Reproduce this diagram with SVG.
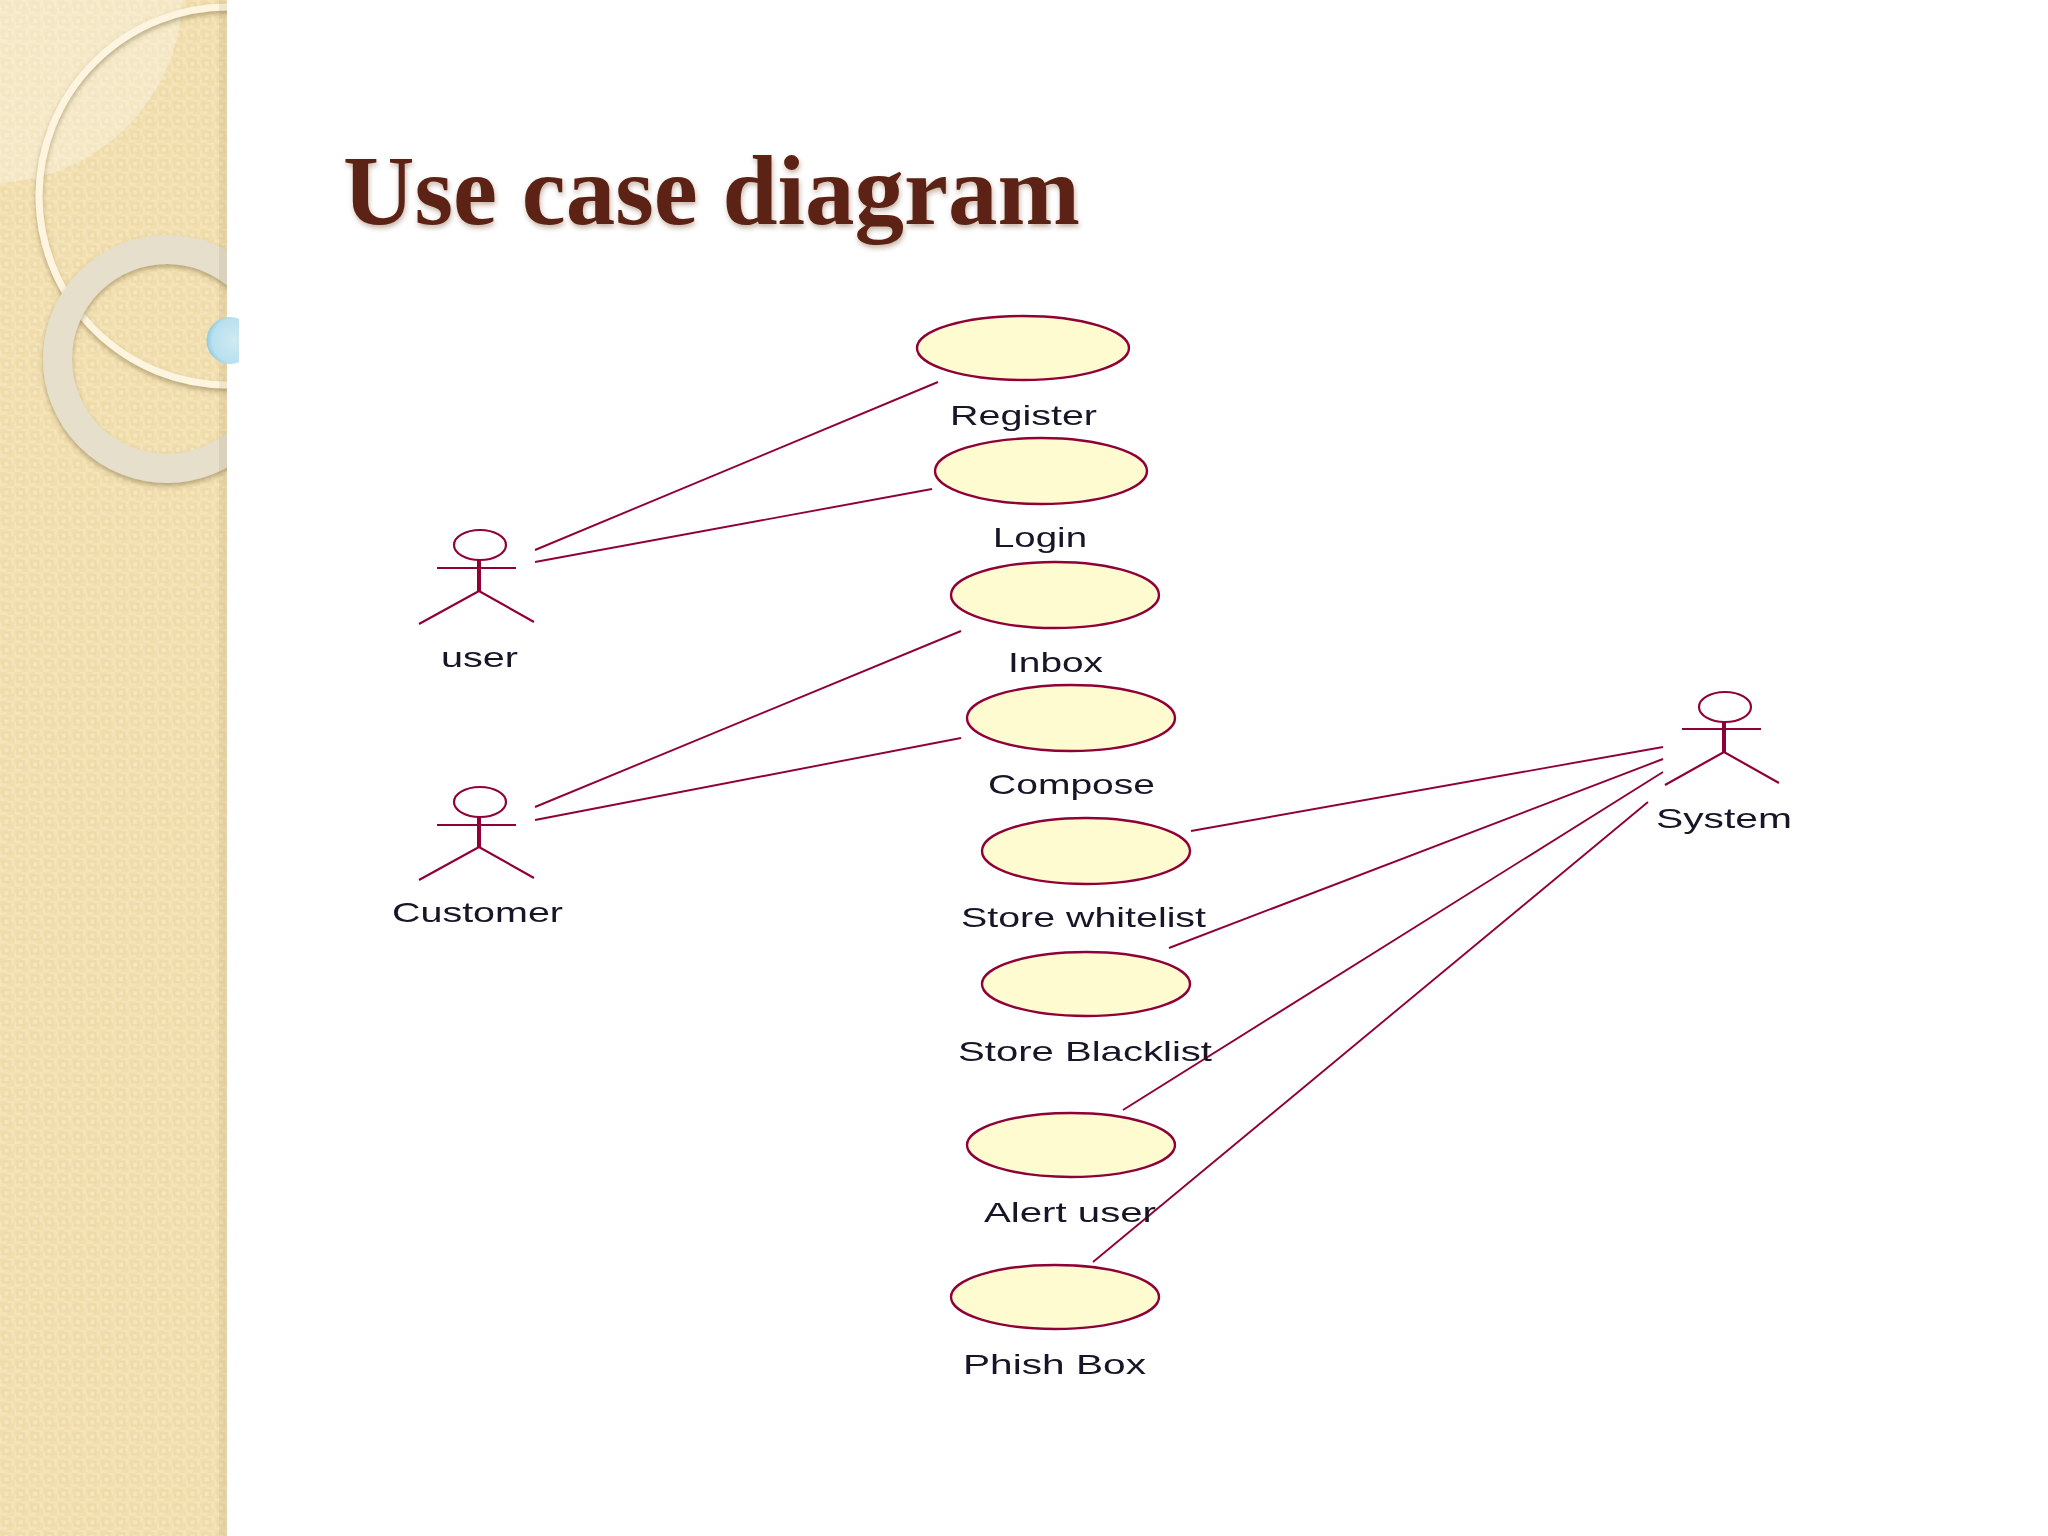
<svg xmlns="http://www.w3.org/2000/svg" width="2048" height="1536" viewBox="0 0 2048 1536">
<style>
.n,.c{filter:url(#soft)}
.uc{fill:#fffbd0;stroke:#900038;stroke-width:2.4}
.a{fill:none;stroke:#900038;stroke-width:2.2}
.b{fill:none;stroke:#900038;stroke-width:4}
.l{font-family:"Liberation Sans",Arial,sans-serif;font-size:28px;fill:#141428}
.c line{stroke:#900038;stroke-width:1.9}
</style>
<defs>
<pattern id="p" width="14.3" height="14.3" patternUnits="userSpaceOnUse">
<rect width="14.3" height="14.3" fill="#f5e4ba"/>
<rect x="0" y="0" width="7" height="7" fill="#f1deae"/>
<rect x="7" y="7" width="7.300" height="7.300" fill="#f1deae"/>
<rect x="2" y="2" width="9" height="9" fill="#eedba8"/>
<rect x="4.500" y="4.500" width="4" height="4" fill="#f5e6c2"/>
</pattern>
<clipPath id="side"><rect width="227" height="1536"/></clipPath>
<clipPath id="ballclip"><rect x="200" y="300" width="39" height="80"/></clipPath>
<filter id="soft" filterUnits="userSpaceOnUse" x="0" y="0" width="2048" height="1536"><feGaussianBlur stdDeviation=".55"/></filter>
<filter id="s" x="-10%" y="-10%" width="120%" height="130%"><feDropShadow dx="1" dy="3" stdDeviation="2.500" flood-color="#5a2a10" flood-opacity=".35"/></filter>
<filter id="sh" x="-20%" y="-20%" width="140%" height="140%"><feDropShadow dx="0" dy="3" stdDeviation="2.500" flood-color="#7a6a40" flood-opacity=".5"/></filter>
<radialGradient id="ball" cx=".6" cy=".5" r=".6"><stop offset="0" stop-color="#cfeaf3"/><stop offset=".8" stop-color="#b8e0ee"/><stop offset="1" stop-color="#8fc9dc"/></radialGradient>
</defs>
<rect width="2048" height="1536" fill="#fff"/>
<g id="sidebar">
<rect width="227" height="1536" fill="url(#p)"/>
<g clip-path="url(#side)">
<path d="M0 0H183C176 105 95 178 0 183Z" fill="#fff" fill-opacity=".3"/>
<circle cx="228" cy="196" r="189" fill="none" stroke="#fdf5df" stroke-width="7" filter="url(#sh)"/>
<circle cx="167" cy="359" r="109.500" fill="none" stroke="#e6dfcc" stroke-width="29" filter="url(#sh)"/>
<rect x="219" y="0" width="8" height="1536" fill="#8a7a50" fill-opacity=".12"/>
</g>
<circle cx="230" cy="340.500" r="23.500" fill="url(#ball)" clip-path="url(#ballclip)"/>
</g>
<text id="title" x="343" y="224" font-family="'Liberation Serif','Times New Roman',serif" font-weight="700" font-size="99" fill="#5c2413" filter="url(#s)" textLength="737" lengthAdjust="spacingAndGlyphs">Use case diagram</text>
<g id="connectors" class="c">
<line x1="535" y1="550" x2="938" y2="382"/>
<line x1="535" y1="562" x2="932" y2="489"/>
<line x1="535" y1="807" x2="961" y2="631"/>
<line x1="535" y1="820" x2="961" y2="738"/>
<line x1="1663" y1="747" x2="1191" y2="831"/>
<line x1="1663" y1="759" x2="1169" y2="948"/>
<line x1="1663" y1="772" x2="1123" y2="1110"/>
<line x1="1648" y1="802" x2="1093" y2="1262"/>
</g>
<g id="user" class="n"><ellipse class="a" cx="480" cy="545" rx="26" ry="15"/><path class="a" d="M437 568H516M419 624L479 591L534 622"/><path class="b" d="M479 560V591"/><text class="l" x="441" y="667" textLength="77" lengthAdjust="spacingAndGlyphs">user</text></g>
<g id="customer" class="n"><ellipse class="a" cx="480" cy="802" rx="26" ry="15"/><path class="a" d="M437 825H516M419 880L479 847L534 878"/><path class="b" d="M479 817V847"/><text class="l" x="392" y="922" textLength="171" lengthAdjust="spacingAndGlyphs">Customer</text></g>
<g id="system" class="n"><ellipse class="a" cx="1725" cy="707" rx="26" ry="15"/><path class="a" d="M1682 729H1761M1665 785L1724 752L1779 783"/><path class="b" d="M1724 722V752"/><text class="l" x="1656" y="828" textLength="136" lengthAdjust="spacingAndGlyphs">System</text></g>
<g id="register" class="n"><ellipse class="uc" cx="1023" cy="348" rx="106" ry="32"/><text class="l" x="950" y="425" textLength="147" lengthAdjust="spacingAndGlyphs">Register</text></g>
<g id="login" class="n"><ellipse class="uc" cx="1041" cy="471" rx="106" ry="33"/><text class="l" x="993" y="547" textLength="94" lengthAdjust="spacingAndGlyphs">Login</text></g>
<g id="inbox" class="n"><ellipse class="uc" cx="1055" cy="595" rx="104" ry="33"/><text class="l" x="1008" y="672" textLength="95" lengthAdjust="spacingAndGlyphs">Inbox</text></g>
<g id="compose" class="n"><ellipse class="uc" cx="1071" cy="718" rx="104" ry="33"/><text class="l" x="988" y="794" textLength="167" lengthAdjust="spacingAndGlyphs">Compose</text></g>
<g id="whitelist" class="n"><ellipse class="uc" cx="1086" cy="851" rx="104" ry="33"/><text class="l" x="961" y="927" textLength="245" lengthAdjust="spacingAndGlyphs">Store whitelist</text></g>
<g id="blacklist" class="n"><ellipse class="uc" cx="1086" cy="984" rx="104" ry="32"/><text class="l" x="958" y="1061" textLength="254" lengthAdjust="spacingAndGlyphs">Store Blacklist</text></g>
<g id="alert" class="n"><ellipse class="uc" cx="1071" cy="1145" rx="104" ry="32"/><text class="l" x="984" y="1222" textLength="172" lengthAdjust="spacingAndGlyphs">Alert user</text></g>
<g id="phish" class="n"><ellipse class="uc" cx="1055" cy="1297" rx="104" ry="32"/><text class="l" x="963" y="1374" textLength="183" lengthAdjust="spacingAndGlyphs">Phish Box</text></g>
</svg>
